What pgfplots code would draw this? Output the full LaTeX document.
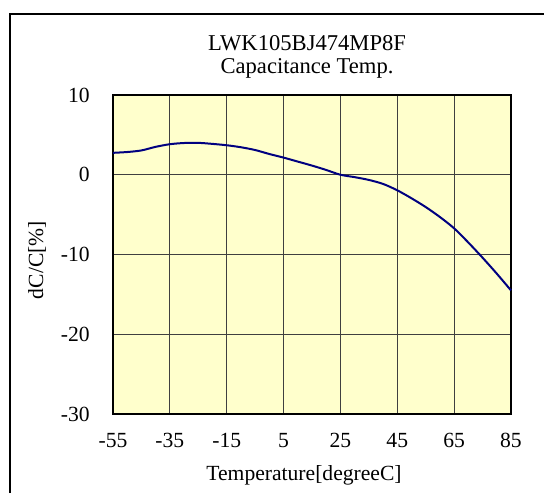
\documentclass[border=0pt]{standalone}
\usepackage{pgfplots}
\pgfplotsset{compat=1.18}
\usepackage{fontspec}
\setmainfont{Liberation Serif}
\definecolor{plotbg}{HTML}{FFFFCC}
\definecolor{curve}{HTML}{000080}
\begin{document}
\fontsize{10.8}{13}\selectfont
\begin{tikzpicture}
\useasboundingbox (0,0) rectangle (272pt,246.5pt);
\fill[white] (0,0) rectangle (272pt,246.5pt);
\draw[black, line width=1pt] (5pt,0) -- (5pt,239.5pt) -- (272pt,239.5pt);
\begin{axis}[
  at={(56.5pt,39.5pt)}, anchor=south west,
  scale only axis, width=199pt, height=159.5pt,
  xmin=-55, xmax=85, ymin=-30, ymax=10,
  xtick={-55,-35,...,85}, ytick={-30,-20,...,10},
  axis background/.style={fill=plotbg},
  axis line style={line width=1pt},
  grid=major, major grid style={black!75, line width=0.5pt},
  tick style={draw=none},
  /pgf/number format/assume math mode=true,
  ticklabel style={font=\fontsize{10.8}{13}\selectfont},
  xticklabel style={anchor=center, yshift=-13.3pt, inner sep=0pt},
  yticklabel style={anchor=east, xshift=-11.5pt, inner sep=0pt},
  xlabel={Temperature[degreeC]},
  xlabel style={at={(axis description cs:0.5,0)}, anchor=center, yshift=-30.5pt, xshift=-4pt, inner sep=0pt},
  ylabel={dC/C[\%]},
  ylabel style={at={(axis description cs:0,0.5)}, anchor=center, xshift=-2.75pt, yshift=38pt, inner sep=0pt},
  label style={font=\fontsize{10.8}{13}\selectfont},
  clip=false,
]
\addplot[curve, line width=1pt, smooth, tension=0.5] coordinates {
(-55,2.75) (-50,2.85) (-45,3.05) (-40,3.5) (-35,3.83) (-30,3.98) (-25,4.0)
(-20,3.87) (-15,3.7) (-10,3.45) (-5,3.1) (0,2.6) (5,2.15) (10,1.65)
(15,1.15) (20,0.6) (25,0.0) (30,-0.3) (35,-0.65) (40,-1.15) (45,-1.95)
(50,-2.95) (55,-4.05) (60,-5.3) (65,-6.72) (70,-8.5) (75,-10.4)
(80,-12.4) (85,-14.5)
};
\end{axis}
\node[anchor=center, inner sep=0pt, font=\fontsize{11.3}{13}\selectfont] at (153.5pt,225pt) {LWK105BJ474MP8F};
\node[anchor=center, inner sep=0pt, font=\fontsize{11.3}{13}\selectfont] at (153.5pt,212.5pt) {Capacitance Temp.};
\end{tikzpicture}
\end{document}
